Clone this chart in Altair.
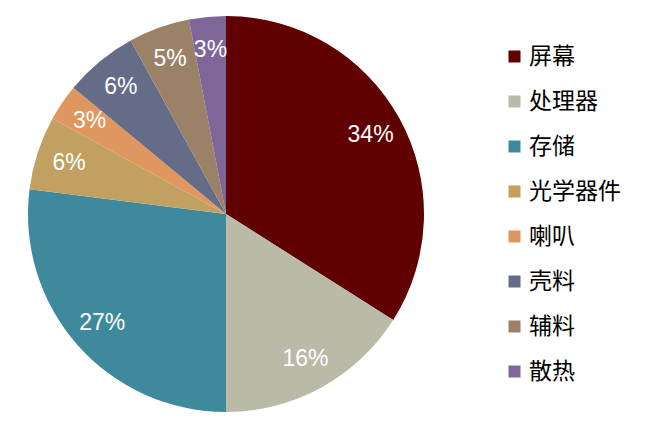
import altair as alt
import pandas as pd

categories = ["屏幕", "处理器", "存储", "光学器件", "喇叭", "壳料", "辅料", "散热"]
shares = [34, 16, 27, 6, 3, 6, 5, 3]
colors = ["#610000", "#BBB9A8", "#3E8A9C", "#C1A062", "#E0965F", "#646C87", "#9C8169", "#7F6699"]

df = pd.DataFrame({
    "cat": categories,
    "share": shares,
    "order": list(range(len(categories))),
    "label": [f"{v}%" for v in shares],
})

base = alt.Chart(df).encode(
    theta=alt.Theta("share:Q", stack=True),
    order=alt.Order("order:Q", sort="ascending"),
)

arcs = base.mark_arc(outerRadius=198, stroke=None).encode(
    color=alt.Color(
        "cat:N",
        sort=categories,
        scale=alt.Scale(domain=categories, range=colors),
        legend=alt.Legend(
            title=None,
            orient="none",
            legendX=495,
            legendY=37,
            symbolType="square",
            symbolSize=144,
            symbolStrokeWidth=0,
            labelFont="Noto Sans CJK SC",
            labelFontSize=23,
            labelColor="#000000",
            labelOffset=3,
            labelLimit=300,
            rowPadding=21,
            padding=0,
        ),
    )
)

texts = base.mark_text(
    radius=165,
    font="Liberation Sans",
    fontSize=23,
    color="white",
    align="center",
    baseline="middle",
).encode(text="label:N")

chart = (
    alt.layer(arcs, texts)
    .properties(width=436, height=412, padding=0, background="white")
    .configure_view(stroke=None)
)

chart.save("out.html", embed_options={"renderer": "svg", "actions": False})
